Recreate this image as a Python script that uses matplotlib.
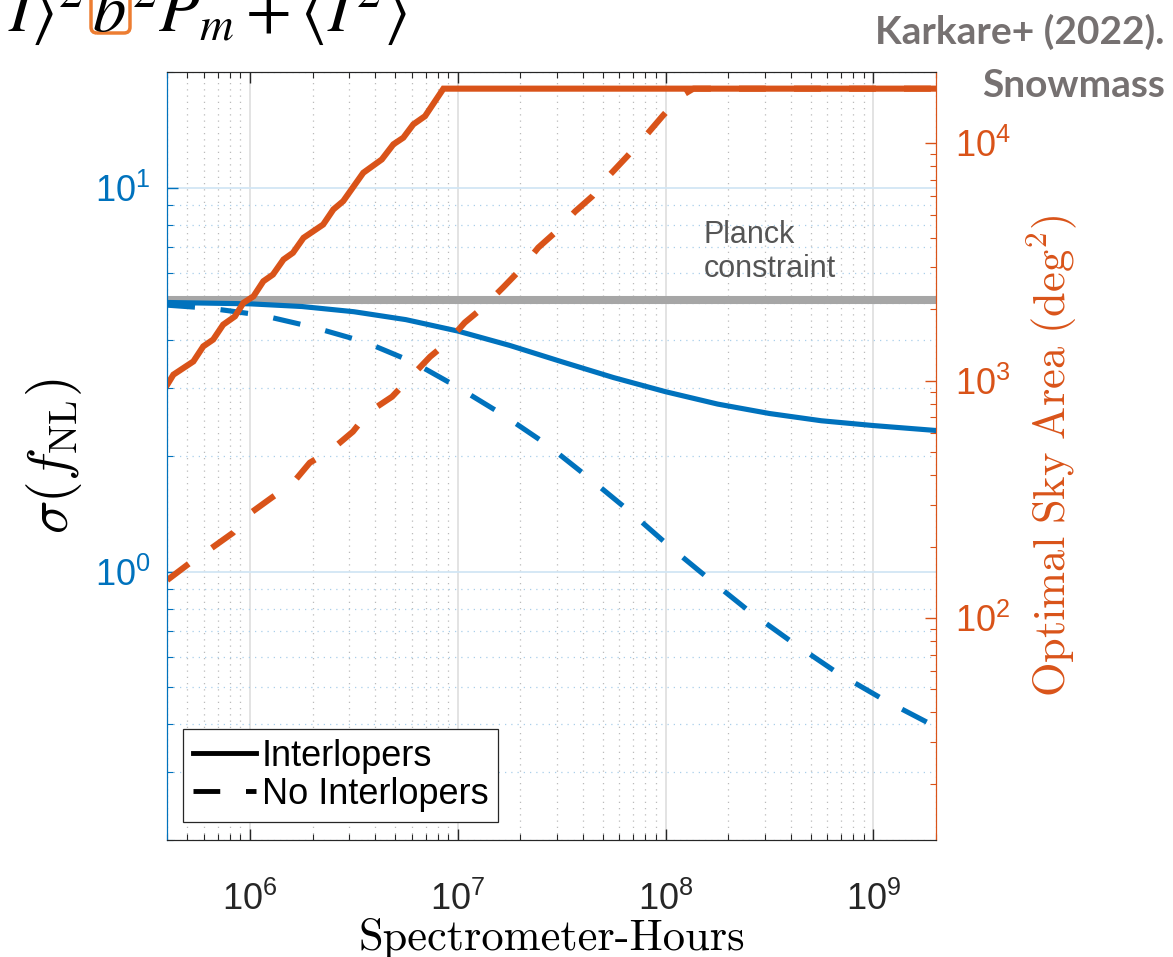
import numpy as np
import matplotlib
matplotlib.use("Agg")
import matplotlib.pyplot as plt
from matplotlib.lines import Line2D
from matplotlib.patches import FancyBboxPatch
from matplotlib.ticker import FixedLocator, LogLocator, NullFormatter, FuncFormatter

plt.rcParams['font.family'] = ['Liberation Sans', 'DejaVu Sans']

blue = '#0072BD'
orange = '#D95319'

# sigma(f_NL) vs spectrometer-hours (left axis)
hours_int = [4.0e5, 1.0e6, 1.78e6, 3.16e6, 5.62e6, 1.0e7, 1.78e7, 3.16e7, 5.62e7, 1.0e8,
             1.78e8, 3.16e8, 5.62e8, 1.0e9, 2.0e9]
sig_int = [5.02, 4.98, 4.90, 4.75, 4.53, 4.23, 3.88, 3.52, 3.20, 2.94,
           2.73, 2.58, 2.47, 2.40, 2.33]

hours_noint = [4.0e5, 6.42e5, 1.14e6, 2.01e6, 3.58e6, 6.10e6, 1.0e7, 1.65e7, 2.69e7, 4.24e7,
               6.76e7, 1.05e8, 1.64e8, 2.55e8, 4.11e8, 6.70e8, 1.12e9, 2.0e9]
sig_noint = [4.94, 4.85, 4.65, 4.33, 3.96, 3.51, 3.02, 2.56, 2.14, 1.76,
             1.43, 1.16, 0.951, 0.785, 0.652, 0.545, 0.464, 0.394]

# optimal sky area (right axis)
hours_area_int = [4.0e5, 4.28e5, 5.34e5, 5.96e5, 6.65e5, 7.43e5, 8.47e5, 9.29e5, 1.04e6, 1.16e6,
                  1.29e6, 1.45e6, 1.61e6, 1.81e6, 2.25e6, 2.52e6, 2.81e6, 3.51e6, 4.31e6, 4.90e6,
                  5.47e6, 6.11e6, 6.96e6, 8.53e6, 2.0e9]
area_int = [962, 1060, 1205, 1395, 1490, 1722, 1867, 2127, 2268, 2625,
            2801, 3241, 3459, 4000, 4550, 5268, 5710, 7520, 8560, 9910,
            10570, 12030, 13030, 17010, 17010]

hours_area_noint = [4.0e5, 5.14e5, 6.55e5, 8.28e5, 9.78e5, 1.27e6, 1.61e6, 1.94e6, 2.47e6, 3.13e6,
                    3.70e6, 4.83e6, 5.77e6, 7.36e6, 8.88e6, 1.08e7, 1.32e7, 1.65e7, 2.00e7, 2.44e7,
                    2.94e7, 3.67e7, 4.43e7, 5.41e7, 6.53e7, 7.98e7, 9.64e7, 1.18e8, 1.36e8, 2.0e9]
area_noint = [144.5, 170.6, 197.3, 228.4, 272, 321, 371, 451, 512, 610,
              733, 856, 1009, 1262, 1446, 1757, 2033, 2468, 2938, 3638,
              4209, 5165, 5974, 7396, 8814, 10710, 13000, 15790, 17010, 17010]

planck_sigma = 5.1

fig = plt.figure(figsize=(11.73, 9.57), dpi=100)
ax = fig.add_axes([0.1426, 0.1223, 0.6553, 0.8025])
ax2 = ax.twinx()

# left axis
ax.set_xscale('log')
ax.set_yscale('log')
ax.axhline(planck_sigma, color='#A6A6A6', lw=5.8, zorder=2)
ax.plot(hours_int, sig_int, color=blue, lw=3.7, zorder=3)
ax.plot(hours_noint, sig_noint, color=blue, lw=3.7, dashes=(5.4, 5.0), zorder=3)
ax.text(1.52e8, 5.6, 'Planck\nconstraint', fontsize=22, color='#555555',
        ha='left', va='bottom', linespacing=1.2)
ax.set_xlim(4.0e5, 2.0e9)
ax.set_ylim(0.2, 20)

# right axis
ax2.set_yscale('log')
ax2.plot(hours_area_int, area_int, color=orange, lw=4.4, solid_joinstyle='miter')
ax2.plot(hours_area_noint, area_noint, color=orange, lw=4.4, dashes=(4.4, 4.6))
ax2.set_ylim(11.6, 2.0e4)

def dec_fmt(v, pos):
    return r'$\mathdefault{10^{%d}}$' % int(round(np.log10(v)))

ax.xaxis.set_major_locator(FixedLocator([1e6, 1e7, 1e8, 1e9]))
ax.xaxis.set_minor_locator(LogLocator(base=10, subs=np.arange(2, 10), numticks=20))
ax.xaxis.set_major_formatter(FuncFormatter(dec_fmt))
ax.xaxis.set_minor_formatter(NullFormatter())
ax.yaxis.set_major_locator(FixedLocator([1, 10]))
ax.yaxis.set_minor_locator(LogLocator(base=10, subs=np.arange(2, 10), numticks=20))
ax.yaxis.set_major_formatter(FuncFormatter(dec_fmt))
ax.yaxis.set_minor_formatter(NullFormatter())
ax2.yaxis.set_major_locator(FixedLocator([1e2, 1e3, 1e4]))
ax2.yaxis.set_minor_locator(LogLocator(base=10, subs=np.arange(2, 10), numticks=20))
ax2.yaxis.set_major_formatter(FuncFormatter(dec_fmt))
ax2.yaxis.set_minor_formatter(NullFormatter())

# MATLAB-like grid
ax.xaxis.grid(True, which='major', color='#E0E0E0', lw=1.3)
ax.xaxis.grid(True, which='minor', color='#BBBBBB', lw=0.9, ls=(0, (1, 4)))
ax.yaxis.grid(True, which='major', color='#D2E6F4', lw=1.3)
ax.yaxis.grid(True, which='minor', color='#A9CFEA', lw=0.9, ls=(0, (1, 4)))
ax.set_axisbelow(True)

ax.tick_params(axis='x', which='both', direction='in', top=True, colors='#262626',
               labelsize=26, pad=30)
ax.tick_params(axis='x', which='major', length=8, width=1)
ax.tick_params(axis='x', which='minor', length=4, width=0.8)
ax.tick_params(axis='y', which='both', direction='in', colors=blue, labelsize=26, pad=12)
ax.tick_params(axis='y', which='major', length=8, width=1)
ax.tick_params(axis='y', which='minor', length=4, width=0.8)
ax2.tick_params(axis='y', which='both', direction='in', colors=orange, labelsize=26, pad=14)
ax2.tick_params(axis='y', which='major', length=8, width=1)
ax2.tick_params(axis='y', which='minor', length=4, width=0.8)

for a in (ax, ax2):
    a.spines['top'].set_color('#262626')
    a.spines['bottom'].set_color('#262626')
    a.spines['left'].set_color(blue)
    a.spines['right'].set_color(orange)

ax.set_xlabel('Spectrometer-Hours', fontfamily='cmr10', fontsize=32, labelpad=0)
ax.set_ylabel(r'$\sigma(f_{\mathrm{NL}})$', math_fontfamily='cm', fontsize=40, labelpad=8)
ax2.set_ylabel(r'$\mathrm{Optimal\ Sky\ Area\ (deg^2)}$', math_fontfamily='cm', fontsize=32,
               color=orange, labelpad=10)

handles = [Line2D([], [], color='black', lw=3.5),
           Line2D([], [], color='black', lw=3.5, dashes=(5.5, 5.3))]
leg = ax2.legend(handles, ['Interlopers', 'No Interlopers'], loc='lower left',
                 bbox_to_anchor=(0.0204, 0.0234), borderaxespad=0, fontsize=26,
                 handlelength=1.75, handletextpad=0.15, labelspacing=0.08,
                 borderpad=0.28, fancybox=False, framealpha=1, edgecolor='#262626')
leg.get_frame().set_linewidth(0.9)

# cropped equation at the top (slide context)
eq_y = 1 - 31 / 957
fig.text(8 / 1173, eq_y, r'$I\rangle^2$', fontsize=48, math_fontfamily='stix', va='baseline')
fig.add_artist(FancyBboxPatch((0.91, 9.24), 0.39, 0.5,
                              boxstyle='round,pad=0,rounding_size=0.06',
                              transform=fig.dpi_scale_trans, fc='none',
                              ec='#ED7D31', lw=2.5))
fig.text(92 / 1173, eq_y, r'$b$', fontsize=48, math_fontfamily='stix', va='baseline')
fig.text(131 / 1173, eq_y, r'${}^2P_m + \langle I^2\rangle$', fontsize=48,
         math_fontfamily='stix', va='baseline')

# citation
fig.text(0.993, 1 - 44 / 957, 'Karkare+ (2022).', fontfamily='Lato', fontweight='bold',
         fontsize=28, color='#767171', ha='right', va='baseline')
fig.text(0.993, 1 - 97 / 957, 'Snowmass', fontfamily='Lato', fontweight='bold',
         fontsize=28, color='#767171', ha='right', va='baseline')

fig.savefig('out.png', dpi=100)
